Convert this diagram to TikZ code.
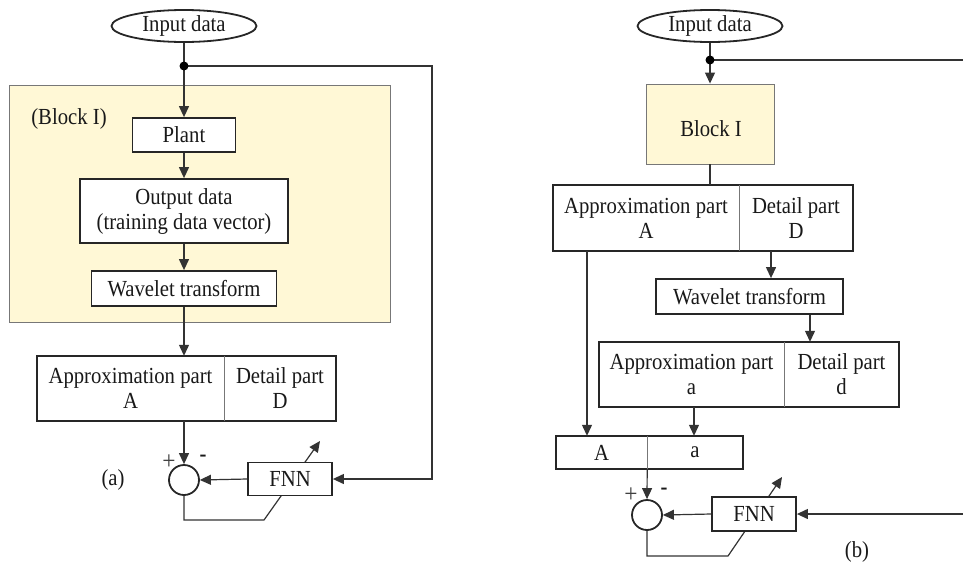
\documentclass[tikz,border=0pt]{standalone}
\usepackage{fontspec}
\setmainfont[FakeStretch=0.9]{Liberation Serif}
\usetikzlibrary{arrows.meta,shapes.geometric}
\definecolor{blockyellow}{HTML}{FFF8D6}
\definecolor{linegray}{HTML}{333333}
\definecolor{bordergray}{HTML}{777777}
\begin{document}
\begin{tikzpicture}[x=1pt,y=-1pt,
  every node/.style={font=\fontsize{23}{25}\selectfont, inner sep=0pt, text=black!90},
  box/.style={draw=black!85, line width=1.8pt, fill=white, align=center},
  part/.style={align=center},
  outline/.style={draw=black!85, line width=1.8pt},
  divider/.style={draw=bordergray, line width=0.9pt},
  conn/.style={draw=linegray, line width=1.2pt},
  arr/.style={conn, -{Triangle[length=11pt,width=10pt]}},
  sumnode/.style={circle, draw=black!85, line width=1.8pt, minimum size=30pt},
  yblock/.style={draw=bordergray, line width=0.9pt, fill=blockyellow},
  sgn/.style={font=\fontsize{26}{26}\selectfont, text=black!75},
  dot/.style={circle, fill=black, minimum size=9pt, inner sep=0pt}
]
\useasboundingbox (0,0) rectangle (963,563);

% ---------------- (a) ----------------
\node[ellipse, box, minimum width=145pt, minimum height=32pt] (inA) at (184,26) {Input data};
\coordinate (jA) at (184,66);
\coordinate (cornerA) at (432,66);
\node[yblock, minimum width=381pt, minimum height=237pt] (blkA) at (199.5,203.5) {};
\node (blkAlbl) at (69,119) {(Block I)};
\node[box, minimum width=103pt, minimum height=34pt] (plant) at (184,135) {Plant};
\node[box, minimum width=208pt, minimum height=64pt] (outA) at (184,211) {Output data\\(training data vector)};
\node[box, minimum width=185pt, minimum height=35pt] (wtA) at (184,288.5) {Wavelet transform};
\node[part, minimum width=187pt, minimum height=65pt] (apA) at (130.5,388.5) {Approximation part\\A};
\node[part, minimum width=112pt, minimum height=65pt] (dpA) at (280,388.5) {Detail part\\D};
\draw[outline] (apA.north west) rectangle (dpA.south east);
\draw[divider] (apA.north east) -- (apA.south east);
\node[sumnode] (sumA) at (184,480) {};

\draw[conn] (inA.south) -- (jA);
\draw[arr] (jA) -- (plant.north);
\draw[arr] (plant.south) -- (outA.north);
\draw[arr] (outA.south) -- (wtA.north);
\draw[arr] (wtA.south) -- (wtA.south |- apA.north);
\draw[arr] (apA.south -| sumA.north) -- (sumA.north);
\coordinate (adA1) at (264,520);
\coordinate (adA2) at (320,441);
\draw[arr] (sumA.south) |- (adA1) -- (adA2);
\node[box, minimum width=84pt, minimum height=33pt] (fnnA) at (290,479) {FNN};
\draw[arr] (jA) -- (cornerA) |- (fnnA.east);
\draw[arr] (fnnA.west) -- (sumA.east);
\node[dot] (dotA) at (jA) {};
\node[sgn] (plusA) at (169,462) {+};
\node (minusA) at (203,458) {\textbf{-}};
\node (labA) at (113,480) {(a)};

% ---------------- (b) ----------------
\node[ellipse, box, minimum width=145pt, minimum height=32pt] (inB) at (710,26) {Input data};
\coordinate (jB) at (710,60);
\coordinate (topEndB) at (963,60);
\coordinate (botEndB) at (963,514);
\node[yblock, minimum width=128pt, minimum height=80pt] (blkB) at (710,124) {};
\node (blkBtxt) at (711,129) {Block I};
\node[part, minimum width=186pt, minimum height=66pt] (apB) at (646,218) {Approximation part\\A};
\node[part, minimum width=114pt, minimum height=66pt] (dpB) at (796,218) {Detail part\\D};
\draw[outline] (apB.north west) rectangle (dpB.south east);
\draw[divider] (apB.north east) -- (apB.south east);
\node[box, minimum width=187pt, minimum height=35pt] (wtB) at (749.5,296.5) {Wavelet transform};
\node[part, minimum width=185pt, minimum height=65pt] (ap2) at (691.5,374.5) {Approximation part\\a};
\node[part, minimum width=115pt, minimum height=65pt] (dp2) at (841.5,374.5) {Detail part\\d};
\draw[outline] (ap2.north west) rectangle (dp2.south east);
\draw[divider] (ap2.north east) -- (ap2.south east);
\node[part, minimum width=91pt, minimum height=33pt] (sA) at (601.5,452.5) {A};
\node[part, minimum width=96pt, minimum height=33pt] (sa) at (695,452.5) {a};
\draw[outline] (sA.north west) rectangle (sa.south east);
\draw[divider] (sA.north east) -- (sA.south east);
\node[sumnode] (sumB) at (647,515) {};

\draw[conn] (inB.south) -- (jB);
\draw[arr] (jB) -- (blkB.north);
\draw[conn] (jB) -- (topEndB);
\draw[conn] (blkB.south) -- (blkB.south |- apB.north);
\draw[arr] ([xshift=-25pt]dpB.south) -- ([xshift=-25pt]dpB.south |- wtB.north);
\draw[arr] ([xshift=60.5pt]wtB.south) -- ([xshift=60.5pt]wtB.south |- ap2.north);
\draw[arr] ([xshift=-59pt]apB.south) -- ([xshift=-59pt]apB.south |- sA.north);
\draw[arr] ([xshift=2.5pt]ap2.south) -- ([xshift=2.5pt]ap2.south |- sa.north);
\draw[arr] (sA.south east) -- (sumB.north);
\coordinate (adB1) at (728,556);
\coordinate (adB2) at (782,477);
\draw[arr] (sumB.south) |- (adB1) -- (adB2);
\node[box, minimum width=84pt, minimum height=34pt] (fnnB) at (754,514) {FNN};
\draw[arr] (botEndB) -- (fnnB.east);
\draw[arr] (fnnB.west) -- (sumB.east);
\node[dot] (dotB) at (jB) {};
\node[sgn] (plusB) at (631,495) {+};
\node (minusB) at (664,491) {\textbf{-}};
\node (labB) at (857,552) {(b)};
\end{tikzpicture}
\end{document}
